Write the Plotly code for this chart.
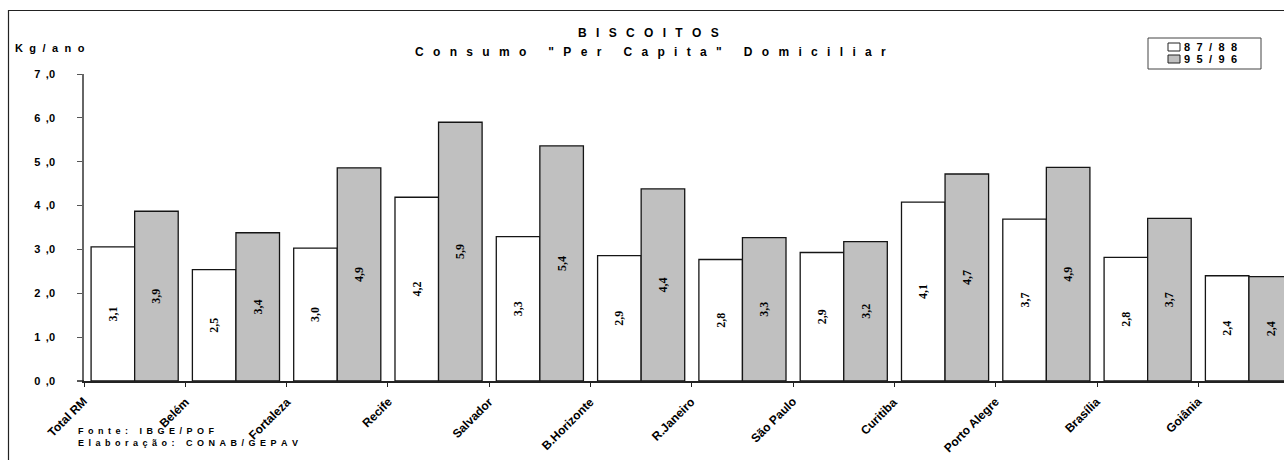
import plotly.graph_objects as go

# ---- data ---------------------------------------------------------------
CATEGORIES = ["Total RM", "Belém", "Fortaleza", "Recife", "Salvador", "B.Horizonte",
              "R.Janeiro", "São Paulo", "Curitiba", "Porto Alegre", "Brasília", "Goiânia"]
SERIES_NAMES = ["87/88", "95/96"]
CONSUMO_8788 = [3.06, 2.54, 3.03, 4.19, 3.29, 2.86, 2.77, 2.93, 4.08, 3.69, 2.82, 2.40]
CONSUMO_9596 = [3.87, 3.38, 4.86, 5.90, 5.36, 4.38, 3.27, 3.18, 4.72, 4.87, 3.71, 2.38]
Y_TICKS = [0, 1, 2, 3, 4, 5, 6, 7]
Y_TICK_LABELS = ["0,0", "1,0", "2,0", "3,0", "4,0", "5,0", "6,0", "7,0"]

TITLE_1 = "BISCOITOS"
TITLE_2 = 'Consumo "Per Capita" Domiciliar'
Y_UNIT = "Kg/ano"
SOURCE_1 = "Fonte: IBGE/POF"
SOURCE_2 = "Elaboração: CONAB/GEPAV"

# ---- page geometry (pixels) --------------------------------------------
FIG_W, FIG_H = 1284, 460
M_L, M_R, M_T, M_B = 84, 0, 74, 79
PLOT_W = FIG_W - M_L - M_R
PLOT_H = FIG_H - M_T - M_B
CAT_PX = 101.3       # width of one category slot
LABEL_SHIFT = 0.09   # category names sit just right of the boundary tick


def px_x(px):
    return (px - M_L) / PLOT_W


def px_y(py):
    return (FIG_H - M_B - py) / PLOT_H


def fmt(v):
    return f"{v:.1f}".replace(".", ",")


# letter-spaced text, as the old spreadsheet rendered it
GAP_WIDE = "\u2002\u00a0"
GAP_MID = "\u2002\u200a"
GAP_SMALL = "\u2002"


def spaced(text, gap):
    return gap.join(text)


SANS = "Arial, Liberation Sans, sans-serif"
SERIF = "Times New Roman, Liberation Serif, serif"
COLORS = ["#ffffff", "#c0c0c0"]
EDGE = "#151515"

idx = list(range(len(CATEGORIES)))

fig = go.Figure()
for name, vals, color in zip(SERIES_NAMES, [CONSUMO_8788, CONSUMO_9596], COLORS):
    fig.add_trace(go.Bar(
        x=idx, y=vals, name=name,
        marker=dict(color=color, line=dict(color=EDGE, width=1.3)),
        text=[fmt(v) for v in vals],
        textposition="inside", insidetextanchor="middle", textangle=-90,
        constraintext="none",
        textfont=dict(family=SERIF, size=12, color="#000000", weight="bold"),
        cliponaxis=True, showlegend=False,
    ))

fig.update_layout(
    width=FIG_W, height=FIG_H,
    margin=dict(l=M_L, r=M_R, t=M_T, b=M_B, pad=0),
    paper_bgcolor="#ffffff", plot_bgcolor="#ffffff",
    barmode="group", bargap=0.14, bargroupgap=0,
    showlegend=False,
    xaxis=dict(
        range=[-0.5, -0.5 + PLOT_W / CAT_PX],
        tickmode="array",
        tickvals=[i - 0.5 for i in idx],
        showticklabels=False,
        ticks="outside", ticklen=4, tickcolor="#222222", tickwidth=1,
        showline=True, linecolor="#222222", linewidth=1.5,
        showgrid=False, zeroline=False,
    ),
    yaxis=dict(
        range=[0, 7],
        tickmode="array", tickvals=Y_TICKS,
        ticktext=[t.replace(",", GAP_SMALL + ",") for t in Y_TICK_LABELS],
        ticks="outside", ticklen=5, tickcolor="#555555", tickwidth=1,
        showline=True, linecolor="#666666", linewidth=1.5,
        showgrid=False, zeroline=False,
        ticklabelstandoff=20,
        tickfont=dict(family=SANS, size=11, color="#000000", weight="bold"),
    ),
)

# base line runs a little past the value axis, to the left
fig.add_shape(type="line", xref="paper", yref="y",
              x0=px_x(77), x1=0, y0=0, y1=0,
              line=dict(color="#222222", width=1.5))

# category names, slanted and hung from the boundary ticks
for i, cat in zip(idx, CATEGORIES):
    fig.add_annotation(text=cat, xref="x", yref="paper",
                       x=i - 0.5 + LABEL_SHIFT, y=px_y(392),
                       xanchor="right", yanchor="top", textangle=-45,
                       showarrow=False,
                       font=dict(family=SANS, size=12, color="#000000", weight="bold"))

# outer frame of the chart page
fig.add_shape(type="rect", xref="paper", yref="paper",
              x0=px_x(8.5), x1=px_x(1320), y0=px_y(500), y1=px_y(10.5),
              line=dict(color="#222222", width=1.2), fillcolor="rgba(0,0,0,0)",
              layer="above")

# legend box with swatches
fig.add_shape(type="rect", xref="paper", yref="paper",
              x0=px_x(1148), x1=px_x(1261), y0=px_y(69), y1=px_y(38),
              line=dict(color="#444444", width=1), fillcolor="#ffffff")
for k, (name, color) in enumerate(zip(SERIES_NAMES, COLORS)):
    cy = 47 + 12 * k
    fig.add_shape(type="rect", xref="paper", yref="paper",
                  x0=px_x(1168), x1=px_x(1180), y0=px_y(cy + 4), y1=px_y(cy - 4),
                  line=dict(color="#222222", width=1), fillcolor=color)
    fig.add_annotation(text=spaced(name, GAP_MID), xref="paper", yref="paper",
                       x=px_x(1182), y=px_y(cy), xanchor="left", yanchor="middle",
                       showarrow=False,
                       font=dict(family=SANS, size=11, color="#000000", weight="bold"))


# titles and notes
def note(text, x, y, size, xanchor="left"):
    fig.add_annotation(text=text, xref="paper", yref="paper",
                       x=px_x(x), y=px_y(y), xanchor=xanchor, yanchor="middle",
                       showarrow=False,
                       font=dict(family=SANS, size=size, color="#000000", weight="bold"))


note(spaced(TITLE_1, GAP_WIDE), 648, 33, 12, "center")
note(spaced(TITLE_2, GAP_WIDE), 650, 52, 12, "center")
note(spaced(Y_UNIT, GAP_MID), 13, 48, 11)
note(spaced(SOURCE_1, GAP_SMALL), 76, 431, 9)
note(spaced(SOURCE_2, GAP_SMALL), 76, 443, 9)

fig.write_html("out.html")
